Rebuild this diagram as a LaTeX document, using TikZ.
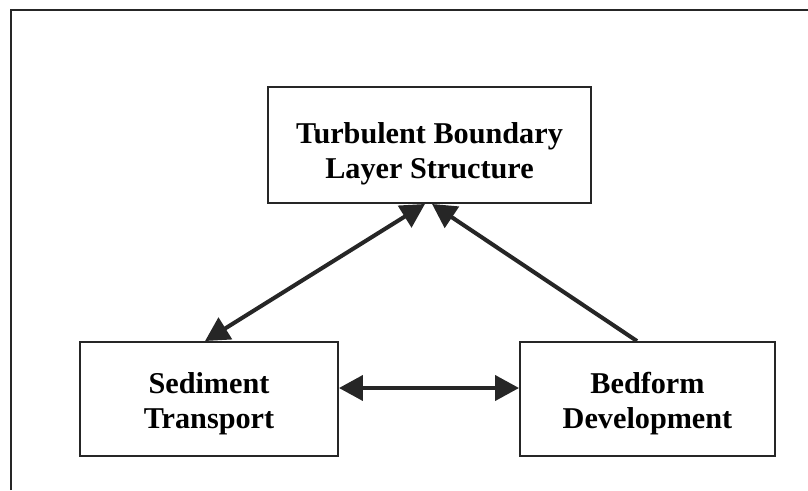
\documentclass[tikz,border=0pt]{standalone}
\usepackage{fontspec}
\setmainfont{Liberation Serif}
\usetikzlibrary{arrows.meta,positioning}
\newcommand{\boxstrut}[1]{\rule{0pt}{#1}}
\tikzset{
  box/.style   = {draw=black!85, line width=1.1pt, align=center, inner sep=0pt,
                  font=\fontsize{17.2}{19.9}\selectfont\bfseries},
  e/.style     = {-{Triangle[length=4.8mm,width=5mm]}, line width=2.3pt, black!85},
  ee/.style    = {{Triangle[length=4.8mm,width=5mm]}-{Triangle[length=4.8mm,width=5mm]},
                  line width=2.3pt, black!85},
  frame/.style = {line width=1.6pt, black!85}
}
\begin{document}
\begin{tikzpicture}[x=1cm,y=1cm]
  \useasboundingbox (0,0) rectangle (16.16,9.8);
  \draw[frame] (0.22,0) -- (0.22,9.6) -- (16.16,9.6);
  \node[box, minimum width=6.46cm, minimum height=2.32cm] (tbl) at (8.59,6.9) {\boxstrut{0.76cm}Turbulent Boundary\\Layer Structure};
  \node[box, minimum width=5.16cm, minimum height=2.28cm] (sed) at (4.18,1.82) {\boxstrut{0.62cm}Sediment\\Transport};
  \node[box, minimum width=5.1cm, minimum height=2.28cm] (bed) at (12.95,1.82) {\boxstrut{0.62cm}Bedform\\Development};
  \draw[ee] ([xshift=-0.08cm]sed.north) -- ([xshift=-0.09cm]tbl.south);
  \draw[e] ([xshift=-0.21cm]bed.north) -- ([xshift=0.05cm]tbl.south);
  \draw[ee] ([yshift=2.2mm]sed.east) -- ([yshift=2.2mm]bed.west);
\end{tikzpicture}
\end{document}
